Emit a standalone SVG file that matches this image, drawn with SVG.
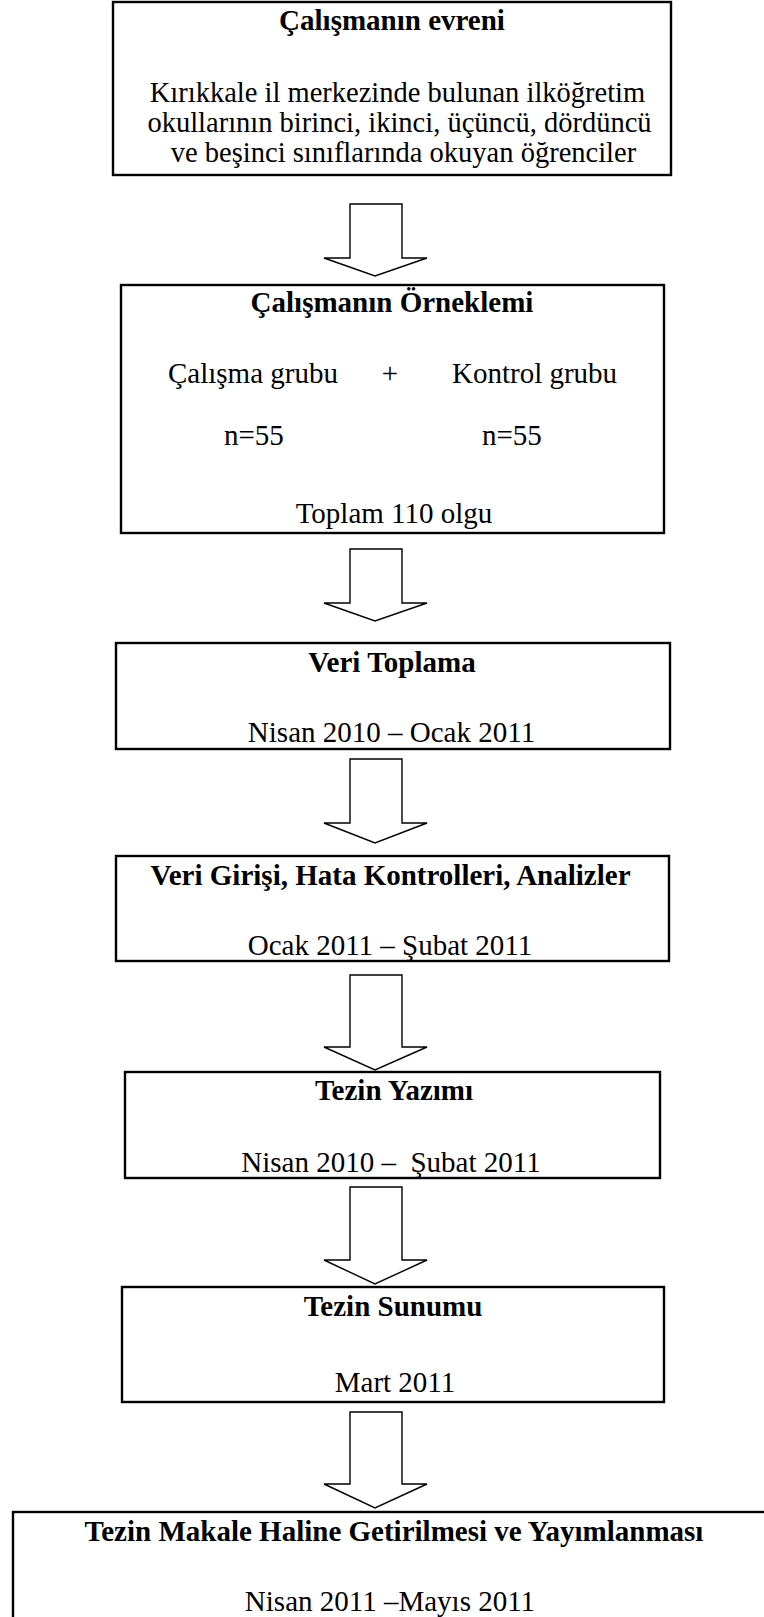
<svg xmlns="http://www.w3.org/2000/svg" width="764" height="1617" viewBox="0 0 764 1617">
<style>
.box{fill:#fff;stroke:#000;stroke-width:2.4}
.arr{fill:#fff;stroke:#000;stroke-width:1.4;stroke-linejoin:miter}
text{font-family:"Liberation Serif","Times New Roman",serif;font-size:29px;fill:#000}
.b{font-weight:bold}
.m{text-anchor:middle}
</style>
<rect width="764" height="1617" fill="#fff"/>
<g id="connectors">
<polygon class="arr" points="350,204 402,204 402,258 427,258 375,276 324,258 350,258"/>
<polygon class="arr" points="350,549 402,549 402,603 427,603 375,621 324,603 350,603"/>
<polygon class="arr" points="350,759 402,759 402,823 427,823 375,843 324,823 350,823"/>
<polygon class="arr" points="350,975 402,975 402,1047 427,1047 375,1070 324,1047 350,1047"/>
<polygon class="arr" points="350,1187 402,1187 402,1260 427,1260 375,1284 324,1260 350,1260"/>
<polygon class="arr" points="350,1412 402,1412 402,1484 427,1484 375,1508 324,1484 350,1484"/>
</g>
<g id="node1">
<rect class="box" x="113" y="2" width="558" height="173"/>
<text class="b m" x="392" y="30">Çalışmanın evreni</text>
<text class="m" x="397.5" y="102" style="font-size:28.5px">Kırıkkale il merkezinde bulunan ilköğretim</text>
<text class="m" x="399.5" y="132" style="font-size:28.5px">okullarının birinci, ikinci, üçüncü, dördüncü</text>
<text class="m" x="403.5" y="162" style="font-size:28.5px">ve beşinci sınıflarında okuyan öğrenciler</text>
</g>
<g id="node2">
<rect class="box" x="121" y="285" width="543" height="248"/>
<text class="b m" x="392" y="312">Çalışmanın Örneklemi</text>
<text x="168" y="383">Çalışma grubu</text>
<text class="m" x="390" y="383">+</text>
<text x="452" y="383">Kontrol grubu</text>
<text x="224" y="445">n=55</text>
<text x="482" y="445">n=55</text>
<text class="m" x="394" y="523">Toplam 110 olgu</text>
</g>
<g id="node3">
<rect class="box" x="116" y="643" width="554" height="106"/>
<text class="b m" x="392" y="672">Veri Toplama</text>
<text class="m" x="391.5" y="742">Nisan 2010 – Ocak 2011</text>
</g>
<g id="node4">
<rect class="box" x="116" y="856" width="553" height="105"/>
<text class="b m" x="390.5" y="885">Veri Girişi, Hata Kontrolleri, Analizler</text>
<text class="m" x="390" y="955">Ocak 2011 – Şubat 2011</text>
</g>
<g id="node5">
<rect class="box" x="125" y="1072" width="535" height="106"/>
<text class="b m" x="394" y="1100">Tezin Yazımı</text>
<text class="m" x="391" y="1172" xml:space="preserve">Nisan 2010 –  Şubat 2011</text>
</g>
<g id="node6">
<rect class="box" x="122" y="1287" width="542" height="115"/>
<text class="b m" x="393" y="1316">Tezin Sunumu</text>
<text class="m" x="395" y="1392">Mart 2011</text>
</g>
<g id="node7">
<rect class="box" x="13" y="1512" width="760" height="115"/>
<text class="b m" x="394" y="1541">Tezin Makale Haline Getirilmesi ve Yayımlanması</text>
<text class="m" x="390" y="1611">Nisan 2011 –Mayıs 2011</text>
</g>
</svg>
